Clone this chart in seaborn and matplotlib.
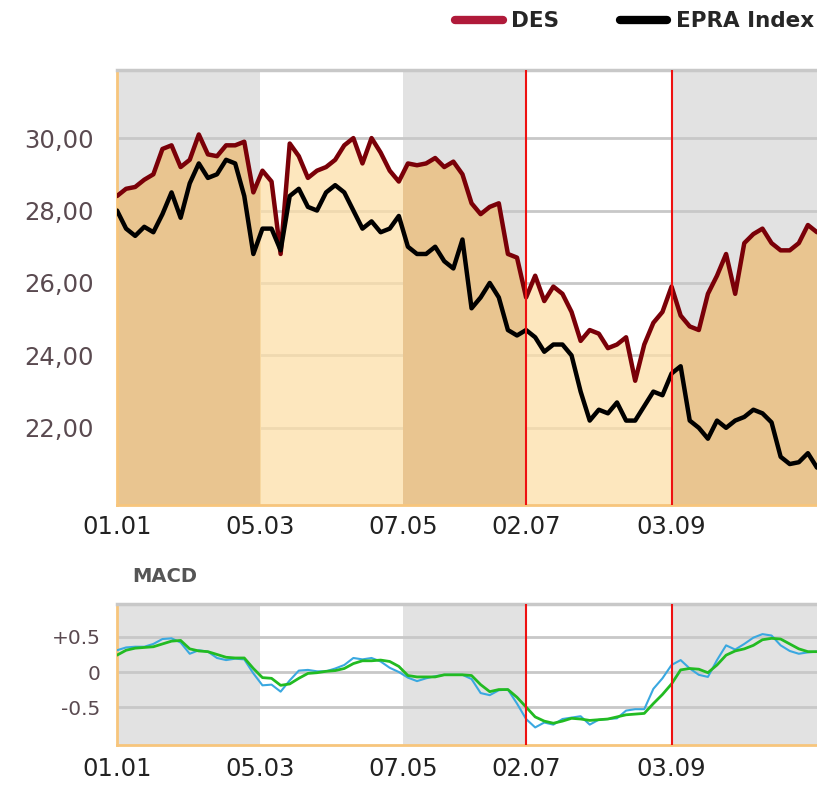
import numpy as np
import pandas as pd
import matplotlib
matplotlib.use("Agg")
import matplotlib.pyplot as plt
import seaborn as sns
from matplotlib.lines import Line2D
from matplotlib.patches import Rectangle

# sampled every 4 calendar days from 01.01
des = [28.4, 28.6, 28.65, 28.85, 29.0, 29.7, 29.8, 29.2, 29.4, 30.1,
       29.55, 29.5, 29.8, 29.8, 29.9, 28.5, 29.1, 28.8, 26.8, 29.85,
       29.5, 28.9, 29.1, 29.2, 29.4, 29.8, 30.0, 29.3, 30.0, 29.6,
       29.1, 28.8, 29.3, 29.25, 29.3, 29.45, 29.2, 29.35, 29.0, 28.2,
       27.9, 28.1, 28.2, 26.8, 26.7, 25.6, 26.2, 25.5, 25.9, 25.7,
       25.2, 24.4, 24.7, 24.6, 24.2, 24.3, 24.5, 23.3, 24.3, 24.9,
       25.2, 25.9, 25.1, 24.8, 24.7, 25.7, 26.2, 26.8, 25.7, 27.1,
       27.35, 27.5, 27.1, 26.9, 26.9, 27.1, 27.6, 27.4]
epra = [28.0, 27.5, 27.3, 27.55, 27.4, 27.9, 28.5, 27.8, 28.75, 29.3,
        28.9, 29.0, 29.4, 29.3, 28.4, 26.8, 27.5, 27.5, 26.9, 28.4,
        28.6, 28.1, 28.0, 28.5, 28.7, 28.5, 28.0, 27.5, 27.7, 27.4,
        27.5, 27.85, 27.0, 26.8, 26.8, 27.0, 26.6, 26.4, 27.2, 25.3,
        25.6, 26.0, 25.6, 24.7, 24.55, 24.7, 24.5, 24.1, 24.3, 24.3,
        24.0, 23.0, 22.2, 22.5, 22.4, 22.7, 22.2, 22.2, 22.6, 23.0,
        22.9, 23.5, 23.7, 22.2, 22.0, 21.7, 22.2, 22.0, 22.2, 22.3,
        22.5, 22.4, 22.15, 21.2, 21.0, 21.05, 21.3, 20.9]
macd = [0.31, 0.35, 0.36, 0.36, 0.40, 0.47, 0.48, 0.42, 0.26, 0.31,
        0.29, 0.20, 0.17, 0.19, 0.18, -0.02, -0.19, -0.18, -0.28, -0.12,
        0.02, 0.03, 0.01, 0.01, 0.05, 0.10, 0.20, 0.18, 0.20, 0.15,
        0.06, 0.0, -0.08, -0.13, -0.09, -0.06, -0.04, -0.04, -0.04, -0.10,
        -0.30, -0.33, -0.26, -0.25, -0.45, -0.67, -0.79, -0.72, -0.75, -0.67,
        -0.65, -0.63, -0.75, -0.68, -0.67, -0.66, -0.55, -0.53, -0.53, -0.24,
        -0.09, 0.10, 0.17, 0.05, -0.04, -0.07, 0.17, 0.38, 0.32, 0.40,
        0.49, 0.54, 0.52, 0.38, 0.30, 0.26, 0.28, 0.29]
signal = [0.24, 0.31, 0.34, 0.35, 0.36, 0.40, 0.44, 0.45, 0.33, 0.30,
          0.29, 0.25, 0.21, 0.20, 0.20, 0.05, -0.08, -0.09, -0.19, -0.17,
          -0.09, -0.02, -0.01, 0.01, 0.02, 0.05, 0.12, 0.16, 0.16, 0.17,
          0.15, 0.08, -0.05, -0.07, -0.07, -0.07, -0.04, -0.04, -0.04, -0.05,
          -0.18, -0.28, -0.25, -0.25, -0.36, -0.50, -0.64, -0.70, -0.73, -0.70,
          -0.66, -0.67, -0.69, -0.68, -0.67, -0.64, -0.61, -0.60, -0.59, -0.45,
          -0.32, -0.17, 0.03, 0.05, 0.04, -0.01, 0.10, 0.24, 0.30, 0.33,
          0.38, 0.46, 0.48, 0.47, 0.40, 0.33, 0.29, 0.29]
day = np.arange(len(des)) * 4

tick_days = [0, 63, 126, 180, 244]
tick_labels = ["01.01", "05.03", "07.05", "02.07", "03.09"]
bands = [(0, 63, True), (63, 126, False), (126, 180, True), (180, 244, False), (244, 308, True)]
marker_days = [180, 244]

df = pd.DataFrame({"day": day, "DES": des, "EPRA": epra, "MACD": macd, "Signal": signal})

sns.set_style("white")
plt.rcParams["font.family"] = ["DejaVu Sans"]

fig = plt.figure(figsize=(8.17, 7.90), dpi=100)
ax = fig.add_axes([0.1432, 0.3608, 0.8568, 0.5506])
ax2 = fig.add_axes([0.1432, 0.0570, 0.8568, 0.1785])

lab_col = "#5a4a50"
ymin, ymax = 19.87, 31.88

for a, lo, hi in [(ax, ymin, ymax), (ax2, -1.04, 0.97)]:
    for s, e, grey in bands:
        if grey:
            a.axvspan(s, e, color="#e2e2e2", zorder=0, lw=0)
    a.set_xlim(0, 308)
    a.set_ylim(lo, hi)
    a.spines["right"].set_visible(False)
    a.spines["top"].set_color("#c8c8c8")
    a.spines["top"].set_linewidth(2.5)
    a.spines["left"].set_color("#f7c57c")
    a.spines["left"].set_linewidth(2)
    a.spines["bottom"].set_color("#f7c57c")
    a.spines["bottom"].set_linewidth(2)
    a.set_xticks(tick_days)
    a.set_xticklabels(tick_labels)
    a.tick_params(length=0)
    for d in marker_days:
        a.axvline(d, color="#ee1111", lw=1.5, zorder=6)

for v in [22, 24, 26, 28, 30]:
    ax.axhline(v, color="#c8c8c8", lw=2, zorder=0.5)

# fill under DES, darker in grey bands, light in white bands
for s, e, grey in bands:
    poly = ax.fill_between(df["day"], ymin, df["DES"], color="#e9c590" if grey else "#fddfa8",
                           alpha=1.0 if grey else 0.75, lw=0, zorder=1)
    poly.set_clip_path(Rectangle((s, ymin), e - s, ymax - ymin, transform=ax.transData))

sns.lineplot(data=df, x="day", y="DES", ax=ax, color="#7a0008", lw=3.2, zorder=4)
sns.lineplot(data=df, x="day", y="EPRA", ax=ax, color="black", lw=3.2, zorder=5)
ax.set_xlabel("")
ax.set_ylabel("")
ax.set_yticks([22, 24, 26, 28, 30])
ax.set_yticklabels(["22,00", "24,00", "26,00", "28,00", "30,00"])
ax.tick_params(axis="y", labelsize=17.5, labelcolor=lab_col, pad=17)
ax.tick_params(axis="x", labelsize=17.5, labelcolor="#222222", pad=7)

for v in [-0.5, 0, 0.5]:
    ax2.axhline(v, color="#c8c8c8", lw=2, zorder=1)
sns.lineplot(data=df, x="day", y="MACD", ax=ax2, color="#3aa8e0", lw=1.5, zorder=3)
sns.lineplot(data=df, x="day", y="Signal", ax=ax2, color="#22bb22", lw=2, zorder=4)
ax2.set_xlabel("")
ax2.set_ylabel("")
ax2.set_yticks([-0.5, 0, 0.5])
ax2.set_yticklabels(["-0.5", "0", "+0.5"])
ax2.tick_params(axis="y", labelsize=14.5, labelcolor=lab_col, pad=12)
ax2.tick_params(axis="x", labelsize=17.5, labelcolor="#222222", pad=9)

fig.text(132 / 817, 1 - 576 / 790, "MACD", fontsize=14, fontweight="bold", color="#555555",
         va="center", ha="left")

handles = [Line2D([], [], color="#b01a3a", lw=6), Line2D([], [], color="black", lw=6)]
fig.legend(handles, ["DES", "EPRA Index"], loc="upper right", bbox_to_anchor=(1.02, 1.01),
           ncol=2, frameon=False, handlelength=2.2, handletextpad=0.4, columnspacing=2.8,
           prop={"weight": "bold", "size": 15.5})

fig.savefig("out.png", dpi=100)
